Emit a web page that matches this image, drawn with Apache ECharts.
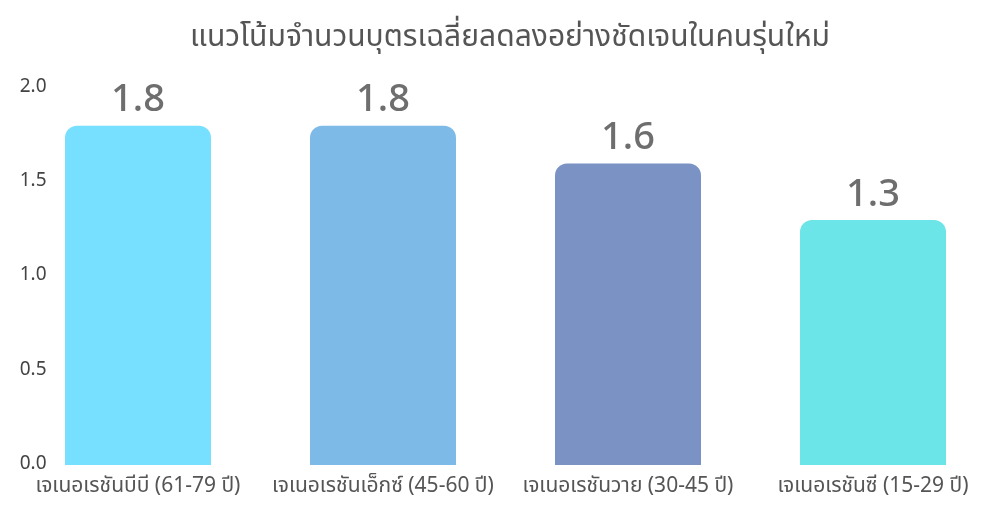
<!DOCTYPE html>
<html>
<head>
<meta charset="utf-8">
<script src="https://cdn.jsdelivr.net/npm/echarts@6/dist/echarts.min.js"></script>
<style>
  html, body { margin: 0; padding: 0; background: #fff; }
  #chart { width: 985px; height: 522px; }
</style>
</head>
<body>
<div id="chart"></div>
<script>
const titleText = 'แนวโน้มจำนวนบุตรเฉลี่ยลดลงอย่างชัดเจนในคนรุ่นใหม่'
const generations = ['เจเนอเรชันบีบี (61-79 ปี)', 'เจเนอเรชันเอ็กซ์ (45-60 ปี)', 'เจเนอเรชันวาย (30-45 ปี)', 'เจเนอเรชันซี (15-29 ปี)']
const avgChildren = [1.8, 1.8, 1.6, 1.3]
const barColors = ['#77dfff', '#7ebae8', '#7b92c4', '#6be5e8']

const fontFamily = '"Noto Sans Thai", "Noto Sans", sans-serif'

const chart = echarts.init(document.getElementById('chart'))

const option = {
  animation: false,
  title: {
    text: titleText,
    left: 505,
    top: 20,
    textAlign: 'center',
    textStyle: {
      fontFamily: fontFamily,
      fontSize: 30,
      fontWeight: 'normal',
      color: '#555'
    }
  },
  grid: {
    left: 15.5,
    right: -10.5,
    top: 88,
    bottom: 57,
    outerBoundsMode: 'none',
    containLabel: false
  },
  xAxis: {
    type: 'category',
    data: generations,
    axisLine: { show: false },
    axisTick: { show: false },
    axisLabel: {
      interval: 0,
      margin: 12,
      fontFamily: fontFamily,
      fontSize: 21,
      color: '#555'
    }
  },
  yAxis: {
    type: 'value',
    min: 0,
    max: 2,
    interval: 0.5,
    splitLine: { show: false },
    axisLine: { show: false },
    axisTick: { show: false },
    axisLabel: {
      margin: -31,
      padding: [4, 0, 0, 0],
      fontFamily: fontFamily,
      fontSize: 19,
      color: '#444',
      formatter: (v) => v.toFixed(1)
    }
  },
  series: [
    {
      type: 'bar',
      data: avgChildren.map((v, i) => ({ value: v, itemStyle: { color: barColors[i] } })),
      barWidth: 146,
      itemStyle: { borderRadius: [12, 12, 0, 0] },
      label: {
        show: true,
        position: 'top',
        distance: 3,
        fontFamily: fontFamily,
        fontSize: 38,
        fontWeight: 500,
        color: '#6e6e6e',
        formatter: (p) => p.value.toFixed(1)
      }
    }
  ]
}

chart.setOption(option)
</script>
</body>
</html>
